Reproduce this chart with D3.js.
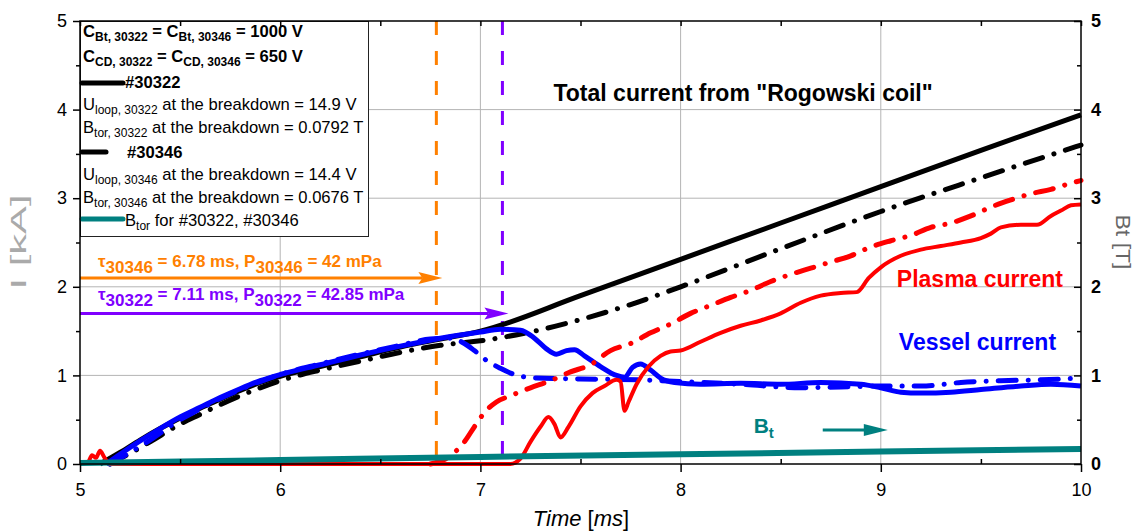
<!DOCTYPE html>
<html>
<head>
<meta charset="utf-8">
<script src="https://cdn.jsdelivr.net/npm/d3@7"></script>
<style>
  body { margin: 0; background: #fff; }
  text { font-family: "Liberation Sans", Arial, sans-serif; }
</style>
</head>
<body>
<script>
// données : [temps (ms), valeur]
const totalCurrent30322 = [[5.10,0],[5.2,0.13],[5.3,0.27],[5.4,0.4],[5.5,0.52],[5.6,0.63],[5.7,0.73],[5.8,0.83],[5.9,0.92],[6.0,0.99],[6.2,1.1],[6.4,1.21],[6.6,1.32],[6.8,1.41],[7.0,1.5],[7.5,1.9],[8.0,2.31],[8.5,2.72],[9.0,3.13],[9.5,3.54],[10,3.94]];
const totalCurrent30346 = [[5.15,0],[5.25,0.12],[5.35,0.25],[5.5,0.45],[5.6,0.56],[5.7,0.67],[5.8,0.77],[5.9,0.86],[6.0,0.94],[6.2,1.06],[6.4,1.16],[6.6,1.26],[6.8,1.34],[7.0,1.39],[7.25,1.49],[7.5,1.63],[7.75,1.8],[8.0,2.0],[8.5,2.43],[9.0,2.85],[9.5,3.23],[10,3.6]];
const vesselCurrent30322 = [[5.13,0],[5.2,0.11],[5.3,0.26],[5.4,0.4],[5.5,0.53],[5.6,0.64],[5.7,0.75],[5.8,0.85],[5.9,0.94],[6.0,1.01],[6.2,1.12],[6.4,1.23],[6.6,1.33],[6.8,1.42],[7.0,1.49],[7.1,1.52],[7.2,1.51],[7.27,1.42],[7.33,1.3],[7.38,1.24],[7.43,1.28],[7.47,1.29],[7.52,1.22],[7.6,1.1],[7.68,1.0],[7.72,0.98],[7.76,1.09],[7.8,1.13],[7.85,1.06],[7.9,0.97],[7.97,0.92],[8.1,0.9],[8.3,0.91],[8.5,0.9],[8.7,0.92],[8.9,0.9],[9.0,0.86],[9.1,0.81],[9.2,0.8],[9.35,0.81],[9.5,0.84],[9.7,0.88],[9.85,0.9],[10,0.88]];
const vesselCurrent30346 = [[5.15,0],[5.25,0.13],[5.35,0.27],[5.5,0.5],[5.6,0.62],[5.7,0.74],[5.8,0.84],[5.9,0.93],[6.0,1.01],[6.2,1.13],[6.4,1.24],[6.6,1.34],[6.75,1.41],[6.85,1.42],[6.92,1.36],[6.97,1.28],[7.03,1.17],[7.1,1.08],[7.17,1.01],[7.28,0.97],[7.5,0.96],[7.8,0.95],[8.0,0.93],[8.3,0.9],[8.6,0.86],[8.8,0.87],[9.0,0.88],[9.2,0.88],[9.4,0.92],[9.6,0.94],[9.8,0.95],[10,0.97]];
const plasmaCurrent30322 = [[5.0,0],[5.04,0.02],[5.06,0.1],[5.08,0.07],[5.1,0.15],[5.12,0.08],[5.15,0],[6.8,0],[7.15,0],[7.2,0.06],[7.25,0.25],[7.3,0.42],[7.34,0.53],[7.37,0.45],[7.4,0.3],[7.44,0.42],[7.5,0.65],[7.56,0.8],[7.62,0.88],[7.68,0.95],[7.7,0.93],[7.72,0.6],[7.74,0.7],[7.78,0.9],[7.84,1.1],[7.9,1.22],[7.95,1.27],[8.0,1.28],[8.1,1.38],[8.2,1.48],[8.3,1.56],[8.4,1.62],[8.5,1.7],[8.6,1.82],[8.7,1.9],[8.8,1.93],[8.88,1.94],[8.94,2.1],[9.0,2.22],[9.1,2.35],[9.2,2.42],[9.3,2.46],[9.4,2.5],[9.5,2.55],[9.55,2.6],[9.6,2.67],[9.7,2.7],[9.78,2.7],[9.85,2.8],[9.9,2.86],[9.95,2.92],[10,2.93]];
const plasmaCurrent30346 = [[6.75,0],[6.82,0.05],[6.87,0.13],[6.92,0.25],[6.97,0.42],[7.02,0.58],[7.08,0.7],[7.15,0.77],[7.25,0.86],[7.35,0.94],[7.45,1.04],[7.55,1.12],[7.65,1.28],[7.75,1.36],[7.85,1.48],[7.95,1.58],[8.05,1.7],[8.15,1.79],[8.25,1.88],[8.35,1.96],[8.45,2.06],[8.55,2.14],[8.65,2.21],[8.75,2.28],[8.85,2.35],[8.95,2.45],[9.05,2.52],[9.15,2.58],[9.25,2.67],[9.35,2.72],[9.45,2.8],[9.55,2.9],[9.65,2.98],[9.75,3.05],[9.85,3.1],[9.95,3.17],[10,3.2]];
const bTor = [[5,0.01],[6,0.045],[7,0.08],[8,0.11],[9,0.14],[10,0.17]];

const tau30346 = 6.78;
const tau30322 = 7.11;
const xTicks = [5, 6, 7, 8, 9, 10];
const yTicks = [0, 1, 2, 3, 4, 5];
const xMinor = [5.5, 6.5, 7.5, 8.5, 9.5];
const yMinor = [0.5, 1.5, 2.5, 3.5, 4.5];

const W = 1134, H = 531;
const marge = { gauche: 80, droite: 53, haut: 21, bas: 67 };

const svg = d3.select("body").append("svg").attr("width", W).attr("height", H);

const x = d3.scaleLinear().domain([5, 10]).range([marge.gauche, W - marge.droite]);
const y = d3.scaleLinear().domain([0, 5]).range([H - marge.bas, marge.haut]);

// grille
svg.append("g").selectAll("line").data(yTicks.slice(1, -1)).join("line")
    .attr("x1", x(5)).attr("x2", x(10))
    .attr("y1", d => y(d)).attr("y2", d => y(d))
    .attr("stroke", "#b4b4b4").attr("stroke-width", 1);
svg.append("g").selectAll("line").data(xTicks.slice(1, -1)).join("line")
    .attr("x1", d => x(d)).attr("x2", d => x(d))
    .attr("y1", y(0)).attr("y2", y(5))
    .attr("stroke", "#b4b4b4").attr("stroke-width", 1);

// lignes verticales tau
const tauLignes = [[tau30346, "#ff8000"], [tau30322, "#8000ff"]];
svg.append("g").selectAll("line").data(tauLignes).join("line")
    .attr("x1", d => x(d[0])).attr("x2", d => x(d[0]))
    .attr("y1", y(5)).attr("y2", y(0))
    .attr("stroke", d => d[1]).attr("stroke-width", 3)
    .attr("stroke-dasharray", "14,16");

// courbes
const ligne = d3.line().x(d => x(d[0])).y(d => y(d[1])).curve(d3.curveMonotoneX);
const dashDot = "18,12,0.1,12";
const courbes = [
    { data: totalCurrent30322, color: "black", w: 5, dash: null },
    { data: totalCurrent30346, color: "black", w: 5, dash: dashDot },
    { data: vesselCurrent30346, color: "#0000ff", w: 5, dash: dashDot },
    { data: vesselCurrent30322, color: "#0000ff", w: 5, dash: null },
    { data: plasmaCurrent30346, color: "#ff0000", w: 5, dash: dashDot },
    { data: plasmaCurrent30322, color: "#ff0000", w: 4, dash: null },
    { data: bTor, color: "#008080", w: 6, dash: null }
];
svg.append("g").selectAll("path").data(courbes).join("path")
    .attr("d", d => ligne(d.data))
    .attr("fill", "none")
    .attr("stroke", d => d.color)
    .attr("stroke-width", d => d.w)
    .attr("stroke-linecap", d => d.dash ? "round" : "butt")
    .attr("stroke-linejoin", "round")
    .attr("stroke-dasharray", d => d.dash);

// texte avec indices
function texteRiche(g, px, py, morceaux, taille, tailleIndice, decalage, poids, couleur) {
    const t = g.append("text").attr("x", px).attr("y", py)
        .attr("font-size", taille).attr("font-weight", poids).attr("fill", couleur);
    let enBas = false;
    morceaux.forEach(m => {
        const sub = m[1] === true;
        const ts = t.append("tspan").text(m[0]);
        if (sub && !enBas) { ts.attr("dy", decalage).attr("font-size", tailleIndice); enBas = true; }
        else if (sub) { ts.attr("font-size", tailleIndice); }
        else if (!sub && enBas) { ts.attr("dy", -decalage); enBas = false; }
    });
    return t;
}

// flèches tau
function fleche(g, x1, x2, py, couleur) {
    g.append("line").attr("x1", x1).attr("x2", x2 - 20).attr("y1", py).attr("y2", py)
        .attr("stroke", couleur).attr("stroke-width", 3);
    g.append("path")
        .attr("d", `M${x2},${py} L${x2 - 24},${py - 6} L${x2 - 20},${py} L${x2 - 24},${py + 6} Z`)
        .attr("fill", couleur);
}
const annot = svg.append("g");
fleche(annot, x(5), x(tau30346) + 6, y(2.1), "#ff8000");
fleche(annot, x(5), x(tau30322) + 6, y(1.7), "#8000ff");
texteRiche(annot, 98, y(2.22), [["τ"], ["30346", true], [" = 6.78 ms, P"], ["30346", true], [" = 42 mPa"]], 17, 17, 6, "bold", "#ff8000");
texteRiche(annot, 98, y(1.85), [["τ"], ["30322", true], [" = 7.11 ms, P"], ["30322", true], [" = 42.85 mPa"]], 17, 17, 6, "bold", "#8000ff");

// étiquettes des courbes
annot.append("text").attr("x", x(7.365)).attr("y", y(4.1))
    .attr("font-size", 23).attr("font-weight", "bold").text('Total current from "Rogowski coil"');
annot.append("text").attr("x", x(9.08)).attr("y", y(2.0))
    .attr("font-size", 23).attr("font-weight", "bold").attr("fill", "#ff0000").text("Plasma current");
annot.append("text").attr("x", x(9.09)).attr("y", y(1.29))
    .attr("font-size", 23).attr("font-weight", "bold").attr("fill", "#0000ff").text("Vessel current");
texteRiche(annot, x(8.365), y(0.35), [["B"], ["t", true]], 21, 15, 5, "bold", "#008080");
annot.append("line").attr("x1", x(8.71)).attr("x2", x(8.92)).attr("y1", y(0.385)).attr("y2", y(0.385))
    .attr("stroke", "#008080").attr("stroke-width", 3);
annot.append("path")
    .attr("d", `M${x(9.035)},${y(0.385)} L${x(9.035) - 24},${y(0.385) - 6} L${x(9.035) - 24},${y(0.385) + 6} Z`)
    .attr("fill", "#008080");

// légende
const leg = svg.append("g");
leg.append("rect").attr("x", 80.5).attr("y", 21.5).attr("width", 288).attr("height", 215)
    .attr("fill", "white").attr("stroke", "#222").attr("stroke-width", 1);
const lignesLegende = [
    { y: 37, bold: true, parts: [["C"], ["Bt, 30322", true], [" = C"], ["Bt, 30346", true], [" = 1000 V"]] },
    { y: 62, bold: true, parts: [["C"], ["CD, 30322", true], [" = C"], ["CD, 30346", true], [" = 650 V"]] },
    { y: 88, bold: true, x: 125, parts: [["#30322"]], trait: { w: 41, color: "black", dy: -5 } },
    { y: 110, parts: [["U"], ["loop, 30322", true], [" at the breakdown = 14.9 V"]] },
    { y: 133, parts: [["B"], ["tor, 30322", true], [" at the breakdown = 0.0792 T"]] },
    { y: 158, bold: true, x: 127, parts: [["#30346"]], trait: { w: 24, color: "black", dy: -6 } },
    { y: 180, parts: [["U"], ["loop, 30346", true], [" at the breakdown = 14.4 V"]] },
    { y: 203, parts: [["B"], ["tor, 30346", true], [" at the breakdown = 0.0676 T"]] },
    { y: 226, x: 125, parts: [["B"], ["tor", true], [" for #30322, #30346"]], trait: { w: 41, color: "#008080", dy: -7 } }
];
lignesLegende.forEach(l => {
    if (l.trait) {
        leg.append("line").attr("x1", 82).attr("x2", 82 + l.trait.w)
            .attr("y1", l.y + l.trait.dy).attr("y2", l.y + l.trait.dy)
            .attr("stroke", l.trait.color).attr("stroke-width", 5)
            .attr("stroke-linecap", "round");
    }
    texteRiche(leg, l.x || 83, l.y, l.parts, 16.6, 12, 4, l.bold ? "bold" : "normal", "black");
});

// axes
svg.append("g").attr("transform", `translate(${x(5)},0)`)
    .call(d3.axisLeft(y).tickValues(yTicks).tickSize(7).tickPadding(6).tickFormat(d3.format("d")));
svg.append("g").attr("transform", `translate(${x(5)},0)`)
    .call(d3.axisLeft(y).tickValues(yMinor).tickSize(4).tickFormat(""));
const axeD = svg.append("g").attr("transform", `translate(${x(10)},0)`)
    .call(d3.axisRight(y).tickValues(yTicks).tickSizeInner(-7).tickSizeOuter(0).tickPadding(10).tickFormat(d3.format("d")));
svg.append("g").attr("transform", `translate(${x(10)},0)`)
    .call(d3.axisRight(y).tickValues(yMinor).tickSizeInner(-4).tickSizeOuter(0).tickFormat(""));
svg.append("g").attr("transform", `translate(0,${y(0)})`)
    .call(d3.axisBottom(x).tickValues(xTicks).tickSize(8).tickPadding(11).tickFormat(d3.format("d")));
svg.append("g").attr("transform", `translate(0,${y(0)})`)
    .call(d3.axisBottom(x).tickValues(xMinor).tickSizeInner(-5).tickSizeOuter(0).tickFormat(""));
svg.append("g").attr("transform", `translate(0,${y(5)})`)
    .call(d3.axisTop(x).tickValues(xTicks.concat(xMinor)).tickSizeInner(-5).tickSizeOuter(0).tickFormat(""));

svg.selectAll(".domain").remove();
svg.selectAll(".tick line").attr("stroke", "black").attr("stroke-width", 1.5);
svg.selectAll(".tick text").attr("font-family", "Liberation Sans, Arial, sans-serif")
    .attr("font-size", 18).attr("fill", "black");
axeD.selectAll(".tick text").attr("font-weight", "bold");

// cadre
svg.append("rect").attr("x", x(5)).attr("y", y(5)).attr("width", x(10) - x(5)).attr("height", y(0) - y(5))
    .attr("fill", "none").attr("stroke", "black").attr("stroke-width", 1.5);

// titres des axes
svg.append("text").attr("x", 581).attr("y", 526).attr("text-anchor", "middle")
    .attr("font-family", "Liberation Serif, serif").attr("font-size", 22)
    .html('<tspan font-style="italic">Time</tspan> [<tspan font-style="italic">ms</tspan>]');
svg.append("text").attr("transform", "translate(26,242) rotate(-90)").attr("text-anchor", "middle")
    .attr("font-family", "Liberation Serif, serif").attr("font-size", 22).attr("fill", "#aaa")
    .attr("textLength", 95).attr("lengthAdjust", "spacingAndGlyphs")
    .text("I [kA]");
svg.append("text").attr("transform", "translate(1116,242) rotate(90)").attr("text-anchor", "middle")
    .attr("font-family", "Liberation Serif, serif").attr("font-size", 20).attr("fill", "#666")
    .attr("textLength", 55).attr("lengthAdjust", "spacingAndGlyphs")
    .text("Bt [T]");
</script>
</body>
</html>
